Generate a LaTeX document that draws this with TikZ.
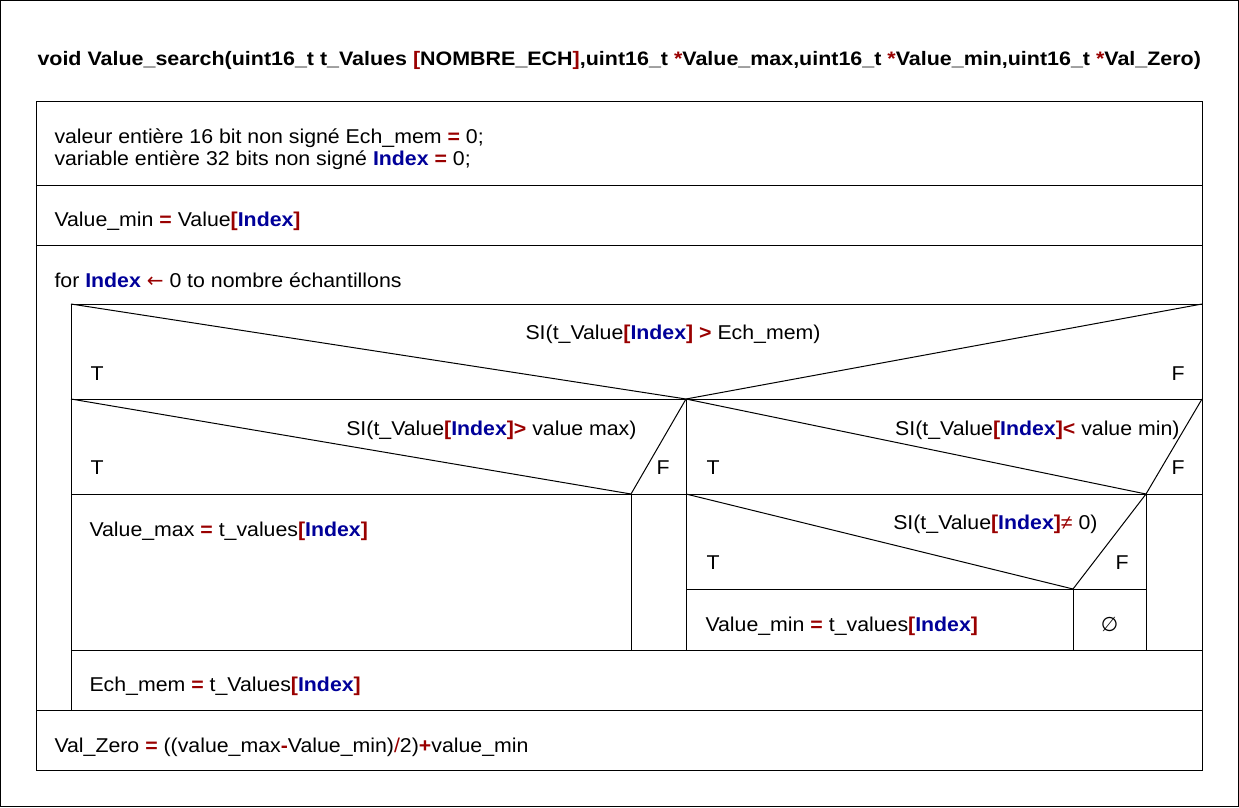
\documentclass[tikz,border=0pt]{standalone}
\usepackage{fontspec}
\setmainfont{Liberation Sans}[FakeStretch=1.065]
\newfontfamily\titlefont{Liberation Sans}[FakeStretch=1.10]
\newfontfamily\symfont{DejaVu Sans}
\definecolor{dred}{RGB}{153,0,0}
\definecolor{dblue}{RGB}{0,0,153}
\newcommand\rb[1]{\textcolor{dred}{\bfseries #1}}
\newcommand\rn[1]{\textcolor{dred}{#1}}
\newcommand\ix{\textcolor{dblue}{\bfseries Index}}
\newcommand\bix{\rb{[}\ix\rb{]}}
\begin{document}
\begin{tikzpicture}[x=1pt,y=-1pt,line width=1pt,
  txt/.style={anchor=base west,inner sep=0pt,font=\fontsize{20}{24}\selectfont},
  txe/.style={txt,anchor=base east},
  txc/.style={txt,anchor=base}]
\useasboundingbox (0,0) rectangle (1239,807);
% frames
\draw (0.5,0.5) rectangle (1238.5,806.5);
\draw (36,101) rectangle (1202,770);
\draw (36,185) -- (1202,185);
\draw (36,245) -- (1202,245);
\draw (36,710) -- (1202,710);
% loop body
\coordinate (lt) at (71,304);
\coordinate (rt) at (1202,304);
\coordinate (a1) at (686,399);
\coordinate (a2) at (631,494);
\coordinate (a3) at (1146,494);
\coordinate (a4) at (1073,589);
\draw (lt) -- (rt);
\draw (lt) -- (71,710);
\draw (71,650) -- (1202,650);
\draw (71,399) -- (1202,399);
\draw (71,494) -- (1202,494);
\draw (686,589) -- (1146,589);
% decision 1
\draw (lt) -- (a1) -- (rt);
\draw (a1) -- (686,650);
% decision 2
\draw (71,399) -- (a2) -- (a1);
\draw (a2) -- (631,650);
% decision 3
\draw (a1) -- (a3) -- (1202,399);
\draw (a3) -- (1146,650);
% decision 4
\draw (686,494) -- (a4) -- (a3);
\draw (a4) -- (1073,650);
% texts
\node[txt,font=\titlefont\fontsize{19.5}{23}\selectfont\bfseries] (title) at (37,65.5) {void Value\_search(uint16\_t t\_Values \rb{[}NOMBRE\_ECH\rb{]},uint16\_t \rb{*}Value\_max,uint16\_t \rb{*}Value\_min,uint16\_t \rb{*}Val\_Zero)};
\node[txt] (d1) at (54,143.5) {valeur entière 16 bit non signé Ech\_mem \rb{=} 0;};
\node[txt] (d2) at (54,165.5) {variable entière 32 bits non signé \ix\ \rb{=} 0;};
\node[txt] (vm) at (54,226) {Value\_min \rb{=} Value\bix};
\node[txt] (for) at (54,287) {for \ix\ \rn{\symfont ←} 0 to nombre échantillons};
\node[txc] (c1) at (673,339) {SI(t\_Value\bix\ \rb{>} Ech\_mem)};
\node[txt] (t1) at (90,380) {T};
\node[txt] (f1) at (1171,380) {F};
\node[txe] (c2) at (637,435) {SI(t\_Value\bix\rb{>} value max)};
\node[txt] (t2) at (90,474) {T};
\node[txt] (f2) at (656,474) {F};
\node[txe] (c3) at (1180,435) {SI(t\_Value\bix\rb{<} value min)};
\node[txt] (t3) at (706,474) {T};
\node[txt] (f3) at (1171,474) {F};
\node[txt] (vmax) at (89,536) {Value\_max \rb{=} t\_values\bix};
\node[txe] (c4) at (1098,529) {SI(t\_Value\bix\rn{≠} 0)};
\node[txt] (t4) at (706,569) {T};
\node[txt] (f4) at (1115,569) {F};
\node[txt] (vmin) at (705,631) {Value\_min \rb{=} t\_values\bix};
\node[txc] (empty) at (1109.5,631) {{\symfont ∅}};
\node[txt] (ech) at (89,691) {Ech\_mem \rb{=} t\_Values\bix};
\node[txt] (vz) at (54,752) {Val\_Zero \rb{=} ((value\_max\rb{-}Value\_min)\rn{/}2)\rb{+}value\_min};
\end{tikzpicture}
\end{document}
